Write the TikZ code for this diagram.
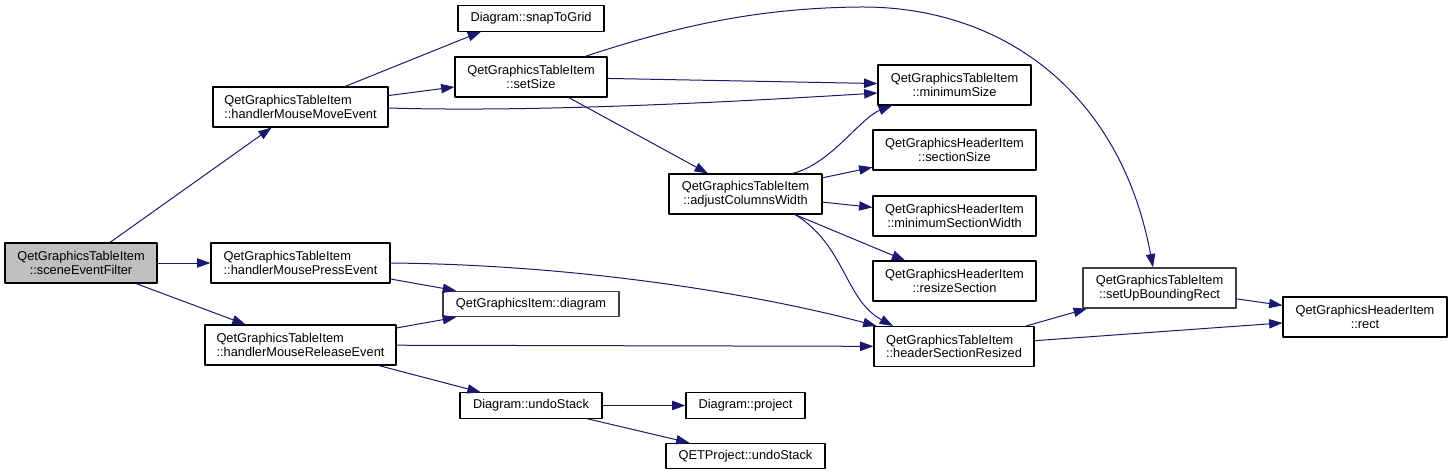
\documentclass[tikz,border=0pt]{standalone}
\usepackage{fontspec}
\setmainfont{Liberation Sans}
\usetikzlibrary{calc,arrows.meta,positioning}
\definecolor{callblue}{HTML}{191970}
\definecolor{cutgray}{HTML}{404040}

\begin{document}
\begin{tikzpicture}[x=0.75pt,y=-0.75pt,>={Triangle[length=10pt,width=7pt]},line join=round,
    fn/.style={draw=black,line width=0.8pt,fill=white,inner sep=0pt,minimum height=30pt,align=center,
      font=\fontsize{9.6pt}{10.3pt}\selectfont},
    one/.style={minimum height=19pt},
    cut/.style={draw=cutgray,line width=1pt},
    call/.style={->,draw=callblue,line width=0.75pt}]
    \useasboundingbox (0,0) rectangle (1452,475);
    % caller and first level
    \node[fn,fill=gray!50,minimum width=114pt] (sef) at (81,263) {QetGraphicsTableItem\\::sceneEventFilter};
    \node[fn,align=left,minimum width=131.25pt] (move) at (300.5,107) {QetGraphicsTableItem\\::handlerMouseMoveEvent};
    \node[fn,align=left,minimum width=134.25pt] (press) at (300.5,263) {QetGraphicsTableItem\\::handlerMousePressEvent};
    \node[fn,align=left,minimum width=143.25pt] (release) at (300.5,345) {QetGraphicsTableItem\\::handlerMouseReleaseEvent};
    % second level
    \node[fn,one,minimum width=109.5pt] (snap) at (531,18.5) {Diagram::snapToGrid};
    \node[fn,minimum width=114pt] (setsize) at (531,77) {QetGraphicsTableItem\\::setSize};
    \node[fn,one,cut,minimum width=132pt] (diagram) at (531,304) {QetGraphicsItem::diagram};
    \node[fn,one,minimum width=106.5pt] (undo) at (531,405.5) {Diagram::undoStack};
    % third level
    \node[fn,minimum width=114.75pt] (adjust) at (745.5,194) {QetGraphicsTableItem\\::adjustColumnsWidth};
    \node[fn,one,minimum width=89.25pt] (project) at (745.5,405.5) {Diagram::project};
    \node[fn,one,minimum width=119.25pt] (qetundo) at (745.5,456) {QETProject::undoStack};
    % fourth level
    \node[fn,minimum width=114.75pt] (minsize) at (954.5,85) {QetGraphicsTableItem\\::minimumSize};
    \node[fn,minimum width=122.25pt] (secsize) at (954.5,150) {QetGraphicsHeaderItem\\::sectionSize};
    \node[fn,minimum width=122.25pt] (minsecw) at (954.5,216) {QetGraphicsHeaderItem\\::minimumSectionWidth};
    \node[fn,minimum width=122.25pt] (resize) at (954.5,281) {QetGraphicsHeaderItem\\::resizeSection};
    \node[fn,align=left,minimum width=120pt] (hsr) at (954,346.5) {QetGraphicsTableItem\\::headerSectionResized};
    \node[fn,cut,minimum width=114.75pt] (subr) at (1159.5,288) {QetGraphicsTableItem\\::setUpBoundingRect};
    \node[fn,minimum width=123pt] (rect) at (1365,317) {QetGraphicsHeaderItem\\::rect};
    % calls
    \draw[call] (sef) -- (move);
    \draw[call] (sef) -- (press);
    \draw[call] (sef) -- (release);
    \draw[call] ($(move.north)+(44.5,0)$) -- ($(snap.south)+(-50,0)$);
    \draw[call] (move) -- (setsize);
    \draw[call] ($(move.east)+(0,1)$) .. controls (520,112) and (700,104) .. ($(minsize.west)+(0,8)$);
    \draw[call] (setsize) -- (minsize);
    \draw[call] ($(setsize.north)+(54,0)$) .. controls (680,25) and (760,8) .. (860,7)
      .. controls (1000,6) and (1120,90) .. ($(subr.north)+(-6.5,0)$);
    \draw[call] (setsize) -- (adjust);
    \draw[call] ($(adjust.north)+(46.5,0)$) .. controls (830,165) and (860,118) .. ($(minsize.south)+(-62.5,0)$);
    \draw[call] (adjust) -- (secsize);
    \draw[call] (adjust) -- (minsecw);
    \draw[call] (adjust) -- (resize);
    \draw[call] ($(adjust.south)+(49.5,0)$) .. controls (845,245) and (845,300) .. ($(hsr.north)+(-61,0)$);
    \draw[call] (press) -- (diagram);
    \draw[call] (press.east) .. controls (600,265) and (780,300) .. ($(hsr.north west)+(3,0)$);
    \draw[call] (release) -- (diagram);
    \draw[call] (release) -- (hsr);
    \draw[call] (release) -- (undo);
    \draw[call] (undo) -- (project);
    \draw[call] (undo) -- (qetundo);
    \draw[call] (hsr) -- (subr);
    \draw[call] (hsr) -- (rect);
    \draw[call] (subr) -- (rect);
\end{tikzpicture}
\end{document}
